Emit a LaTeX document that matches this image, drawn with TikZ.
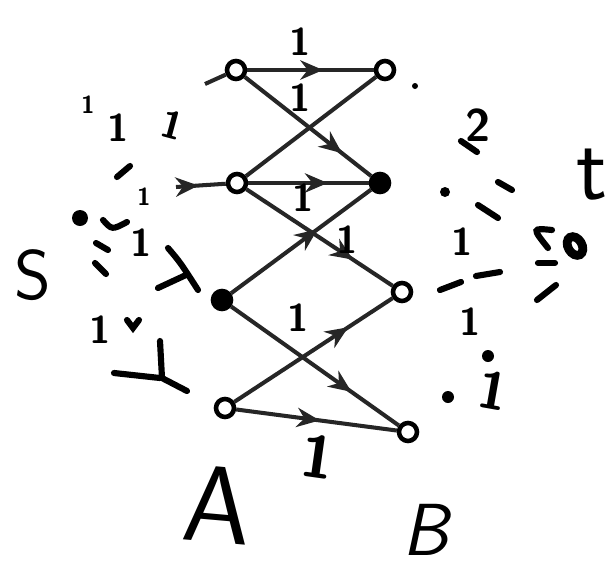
\documentclass[tikz,border=0pt]{standalone}
\usepackage{tikz}
\usetikzlibrary{arrows.meta, decorations.markings}
\tikzset{
  vertice/.style={circle, draw, line width=2.6pt, minimum size=0.36cm, inner sep=0pt},
  arista/.style={line width=2.3pt, draw=black!85},
  flechamedio/.style={postaction={decorate}, decoration={markings, mark=at position #1 with {\arrow{Stealth[length=13pt, width=11pt]}}}},
  flechamedio/.default=0.6,
  peso/.style={font=\fontsize{22}{22}\selectfont\sffamily\bfseries, inner sep=0pt},
  letra/.style={font=\fontsize{50}{50}\selectfont\sffamily, inner sep=0pt},
  trazo/.style={line width=3.5pt, line cap=round}
}

\begin{document}
\begin{tikzpicture}[x=0.02cm, y=-0.02cm]
  \useasboundingbox (0,0) rectangle (613,569);

  % Lado A
  \node[vertice] (a1) at (236,70) {};
  \node[vertice] (a2) at (237,183) {};
  \node[vertice, fill=black] (a3) at (222,300) {};
  \node[vertice] (a4) at (225,408) {};

  % Lado B
  \node[vertice] (b1) at (385,70) {};
  \node[vertice, fill=black] (b2) at (380,183) {};
  \node[vertice] (b3) at (402,292) {};
  \node[vertice] (b4) at (408,432) {};

  % Letras
  \node[letra, font=\fontsize{62}{62}\selectfont\sffamily, rotate=-5] (A) at (218,505) {A};
  \node[letra, font=\fontsize{42}{42}\selectfont\sffamily\slshape] (B) at (426,530) {B};
  \node[letra, font=\fontsize{40}{40}\selectfont\sffamily] (s) at (33,275) {S};
  \node[letra, font=\fontsize{52}{52}\selectfont\sffamily] (t) at (592,175) {t};

  % Aristas A -> B
  \draw[arista, flechamedio=0.6] (a1) -- (b1);
  \draw[arista, flechamedio=0.77] (a1) -- (b2);
  \draw[arista] (a2) -- (b1);
  \draw[arista, flechamedio=0.66] (a2) -- (b2);
  \draw[arista, flechamedio=0.73] (a2) -- (b3);
  \draw[arista, flechamedio=0.62] (a3) -- (b2);
  \draw[arista, flechamedio=0.72] (a3) -- (b4);
  \draw[arista, flechamedio=0.72] (a4) -- (b3);
  \draw[arista, flechamedio=0.52] (a4) -- (b4);

  % Restos de aristas desde s
  \coordinate (s1) at (205,84);
  \coordinate (s2) at (176,187);
  \draw[arista] (s1) -- (a1);
  \draw[arista, flechamedio=0.45] (s2) -- (a2);

  % Pesos del centro
  \node[peso] (p1) at (300,42) {1};
  \node[peso] (p2) at (300,98) {1};
  \node[peso] (p3) at (303,198) {1};
  \node[peso] (p4) at (347,240) {1};
  \node[peso] (p5) at (298,318) {1};
  \node[peso, font=\fontsize{34}{34}\selectfont\sffamily\bfseries, rotate=-8] (p6) at (318,457) {1};

  % Pesos lado s
  \node[peso, font=\fontsize{14}{14}\selectfont\sffamily\bfseries] (l1) at (88,105) {1};
  \node[peso] (l2) at (118,128) {1};
  \node[peso, rotate=-15] (l3) at (172,125) {1};
  \node[peso, font=\fontsize{14}{14}\selectfont\sffamily\bfseries] (l4) at (144,197) {1};
  \node[peso] (l5) at (141,243) {1};
  \node[peso] (l6) at (100,330) {1};
  \fill (80,218) circle (8);
  \draw[trazo] (117,177) -- (130,166);
  \draw[trazo] (103,220) .. controls (112,230) .. (127,222);
  \draw[trazo] (96,243) -- (108,250);
  \draw[trazo] (95,263) -- (106,274);
  \draw[trazo] (168,248) .. controls (180,262) .. (198,290);
  \draw[trazo] (158,288) -- (186,275);
  \draw[trazo] (127,320) -- (133,328) -- (139,320);
  \draw[trazo] (160,341) -- (162,378) -- (187,391);
  \draw[trazo] (114,373) -- (160,378);

  % Pesos lado t
  \node[peso, font=\fontsize{26}{26}\selectfont\sffamily\bfseries] (r1) at (478,125) {2};
  \node[peso] (r2) at (462,242) {1};
  \node[peso] (r3) at (470,322) {1};
  \node[peso, font=\fontsize{30}{30}\selectfont\sffamily\bfseries, rotate=-10] (r4) at (493,390) {1};
  \draw[trazo] (461,141) -- (477,152);
  \fill (445,192) circle (5);
  \draw[trazo] (498,182) -- (512,190);
  \draw[trazo] (478,205) -- (498,218);
  \draw[trazo] (440,290) .. controls (450,286) .. (461,282);
  \draw[trazo] (476,276) -- (500,272);
  \draw[trazo] (552,230) .. controls (532,228) .. (548,248);
  \draw[trazo] (538,263) -- (555,263);
  \draw[trazo] (537,300) -- (556,285);
  \draw[line width=5pt, rotate around={30:(575,246)}] (575,246) ellipse (7 and 10);
  \fill (488,356) circle (6);
  \fill (448,397) circle (6);
  \fill (415,86) circle (3);
\end{tikzpicture}
\end{document}
